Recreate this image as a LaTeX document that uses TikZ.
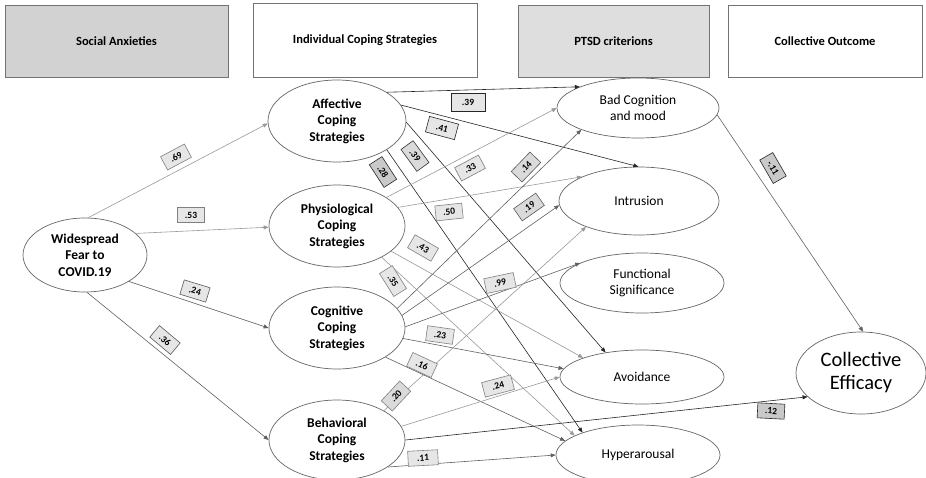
\documentclass[tikz,border=0pt]{standalone}
\usepackage{fontspec}
\setmainfont{Carlito}
\usetikzlibrary{shapes.geometric,arrows.meta}
\definecolor{hdrA}{HTML}{D2D2D2}
\definecolor{hdrB}{HTML}{DEDEDE}
\definecolor{labL}{HTML}{E6E6E6}
\definecolor{labM}{HTML}{DADADA}
\definecolor{labD}{HTML}{C9C9C9}
\tikzset{
 hdr/.style={draw=black!55, line width=0.8pt, minimum height=72pt, font=\bfseries\fontsize{12.5}{14}\selectfont, inner sep=0pt},
 ell/.style={ellipse, draw=black!60, line width=0.7pt, fill=white, inner sep=0pt, align=center},
 cope/.style={ell, font=\bfseries\fontsize{13.5}{16.5}\selectfont},
 ptsd/.style={ell, font=\fontsize{13.5}{16}\selectfont},
 lab/.style={draw=black!50, fill=labL, line width=0.6pt, font=\bfseries\fontsize{9.5}{11}\selectfont, minimum width=27pt, minimum height=15pt, inner sep=1pt},
 labk/.style={lab, draw=black!85},
 labm/.style={lab, draw=black!80, fill=labM},
 labd/.style={lab, draw=black!85, fill=labD},
 arr/.style={-{Triangle[length=5pt,width=4pt]}, line width=0.6pt},
 lite/.style={arr, draw=black!40},
 mid/.style={arr, draw=black!62},
 dark/.style={arr, draw=black!85},
}
\begin{document}
\begin{tikzpicture}[x=1pt,y=-1pt]
\path[use as bounding box, fill=white] (0,0) rectangle (926,477);
% headers
\node[hdr, fill=hdrA, minimum width=223pt] (h1) at (116.5,41) {Social Anxieties};
\node[hdr, fill=white, minimum width=224pt, minimum height=74pt] (h2) at (365,40) {Individual Coping Strategies};
\node[hdr, fill=hdrB, minimum width=191pt] (h3) at (613.5,41) {PTSD criterions};
\node[hdr, fill=white, minimum width=194pt] (h4) at (825,41) {Collective Outcome};
% nodes
\node[cope, minimum width=124pt, minimum height=74pt] (W) at (85,255) {Widespread\\Fear to\\COVID.19};
\node[cope, minimum width=138pt, minimum height=82pt] (A) at (337,121) {Affective\\Coping\\Strategies};
\node[cope, minimum width=136pt, minimum height=82pt] (P) at (337,226) {Physiological\\Coping\\Strategies};
\node[cope, minimum width=136pt, minimum height=82pt] (C) at (337,328) {Cognitive\\Coping\\Strategies};
\node[cope, minimum width=136pt, minimum height=80pt] (B) at (337,440) {Behavioral\\Coping\\Strategies};
\node[ptsd, minimum width=162pt, minimum height=60pt] (BC) at (638,108) {Bad Cognition\\and mood};
\node[ptsd, minimum width=160pt, minimum height=68pt] (I) at (639,201) {Intrusion};
\node[ptsd, minimum width=164pt, minimum height=60pt] (F) at (642,283) {Functional\\Significance};
\node[ptsd, minimum width=164pt, minimum height=54pt] (Av) at (642,377) {Avoidance};
\node[ptsd, minimum width=164pt, minimum height=60pt] (H) at (638,455) {Hyperarousal};
\node[ell, font=\fontsize{20.5}{23}\selectfont, minimum width=130pt, minimum height=82pt] (CE) at (861,373) {Collective\\Efficacy};
% edges
\draw[lite] (W.85) -- (A.182);
\draw[lite] (W.23) -- (P.181);
\draw[mid] (W.-31) -- (C.180);
\draw[mid] (W.-87) -- (B.180);
\draw[dark] (A.30) -- (BC.160);
\draw[dark] (A.14) -- (I.91);
\draw[dark] (A.-1) -- (Av.146);
\draw[dark] (A.-30) -- (H.158);
\draw[lite] (P.30) -- (BC.180);
\draw[lite] (P.17) -- (I.157);
\draw[lite] (P.-25) -- (Av.162);
\draw[lite] (P.-35) -- (H.163);
\draw[mid] (C.18) -- (BC.201);
\draw[mid] (C.11) -- (I.183);
\draw[mid] (C.1) -- (F.162);
\draw[mid] (C.-9) -- (Av.174);
\draw[mid] (C.-31) -- (H.169);
\draw[lite] (B.32) -- (I.206);
\draw[lite] (B.12) -- (Av.180);
\draw[dark] (B.0) -- (CE.204);
\draw[mid] (B.-28) -- (H.180);
\draw[mid] (BC.-5) -- (CE.87);
% labels
\node[lab, rotate=28] (l1) at (176,157) {.69};
\node[lab] (l2) at (191,215) {.53};
\node[lab, draw=black!65, rotate=-17] (l3) at (195,291) {.24};
\node[lab, draw=black!65, rotate=-40] (l4) at (165,340) {.36};
\node[labk, minimum width=34pt, minimum height=18pt] (l5) at (468,102) {.39};
\node[labk, minimum width=30pt, minimum height=16pt, rotate=-15] (l6) at (442,128) {.41};
\node[labm, rotate=-54] (l7) at (415,156) {.39};
\node[labd, rotate=-57] (l8) at (383,172) {.28};
\node[lab, rotate=28] (l9) at (470,168) {.33};
\node[labm, draw=black!65, rotate=46] (l10) at (526,167) {.14};
\node[lab, rotate=6] (l11) at (449,212) {.50};
\node[labm, draw=black!65, rotate=35] (l12) at (529,207) {.19};
\node[lab, rotate=-30] (l13) at (423,248) {.43};
\node[lab, rotate=-58] (l14) at (393,281) {.35};
\node[lab, minimum width=30pt, rotate=12] (l15) at (500,283) {.99};
\node[lab, rotate=-8] (l16) at (440,335) {.23};
\node[lab, rotate=-25] (l17) at (422,365) {.16};
\node[lab, fill=labM, rotate=47] (l18) at (396,396) {.20};
\node[lab, minimum width=30pt, rotate=15] (l19) at (498,386) {.24};
\node[lab, minimum width=30pt, rotate=3] (l20) at (423,458) {.11};
\node[labd, rotate=-3] (l21) at (771,411) {.12};
\node[labd, rotate=-60] (l22) at (773,168) {-.11};
\end{tikzpicture}
\end{document}
